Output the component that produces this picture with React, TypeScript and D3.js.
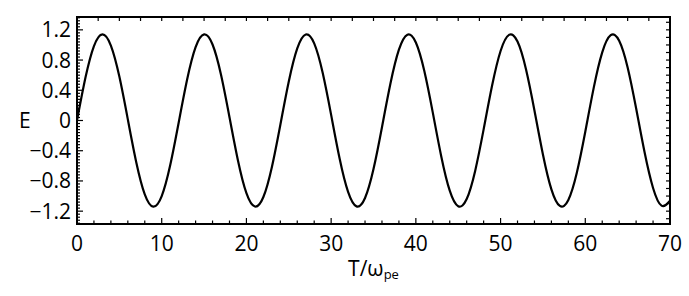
import React from 'react';
import * as d3 from 'd3';

const timeValues = d3.range(0, 71, 1);
const fieldValues = [
  0, 0.568, 0.985, 1.14, 0.992, 0.581, 0.015, -0.555, -0.977, -1.14,
  -1.0, -0.593, -0.03, 0.542, 0.97, 1.139, 1.006, 0.606, 0.044, -0.529,
  -0.962, -1.139, -1.013, -0.618, -0.059, 0.516, 0.954, 1.138, 1.02, 0.631,
  0.074, -0.503, -0.945, -1.137, -1.026, -0.643, -0.089, 0.489, 0.937, 1.136,
  1.033, 0.655, 0.104, -0.476, -0.929, -1.135, -1.039, -0.667, -0.118, 0.462,
  0.92, 1.133, 1.045, 0.679, 0.133, -0.449, -0.911, -1.131, -1.051, -0.691,
  -0.148, 0.435, 0.902, 1.129, 1.057, 0.703, 0.162, -0.421, -0.893, -1.127,
  -1.062,
];
const xTickLabels = [0, 10, 20, 30, 40, 50, 60, 70];
const yTickLabels = [1.2, 0.8, 0.4, 0, -0.4, -0.8, -1.2];

const width = 689;
const height = 296;
const margin = { left: 77, right: 19, top: 17, bottom: 72 };
const font = "'Open Sans', sans-serif";

const fmt = (v: number) => (v < 0 ? '\u2212' + String(-v) : String(v));

const App = () => {
  const x = d3.scaleLinear().domain([0, 70]).range([margin.left, width - margin.right]);
  const y = d3.scaleLinear().domain([-1.37, 1.37]).range([height - margin.bottom, margin.top]);

  const points = timeValues.map((t, i) => [t, fieldValues[i]] as [number, number]);
  const line = d3
    .line<[number, number]>()
    .x((d) => x(d[0]))
    .y((d) => y(d[1]))
    .curve(d3.curveNatural);

  const x0 = x.range()[0];
  const x1 = x.range()[1];
  const yTop = y.range()[1];
  const yBot = y.range()[0];

  const bottomMinor = d3.range(0, 70.01, 2);
  const topMinor = d3.range(0, 70.01, 2.5);
  const leftMinor = d3.range(-1.36, 1.37, 0.04);
  const rightMinor = d3.range(-1.3, 1.31, 0.1);
  const isMajor = (v: number, step: number) => Math.abs(v / step - Math.round(v / step)) < 1e-6;

  return (
    <svg width={width} height={height} style={{ position: 'absolute', left: 0, top: 0, background: '#fff' }}>
      <defs>
        <clipPath id="plot">
          <rect x={x0} y={yTop} width={x1 - x0} height={yBot - yTop} />
        </clipPath>
      </defs>

      {/* ticks, all pointing inward */}
      <g stroke="#000" strokeWidth={1.2}>
        {bottomMinor.map((v) => (
          <line key={'b' + v} x1={x(v)} x2={x(v)} y1={yBot} y2={yBot - (isMajor(v, 10) ? 6 : 3.5)} />
        ))}
        {topMinor.map((v) => (
          <line key={'t' + v} x1={x(v)} x2={x(v)} y1={yTop} y2={yTop + 4} />
        ))}
        {leftMinor.map((v) => (
          <line key={'l' + v} x1={x0} x2={x0 + (isMajor(v, 0.4) ? 6 : 3)} y1={y(v)} y2={y(v)} />
        ))}
        {rightMinor.map((v) => (
          <line key={'r' + v} x1={x1} x2={x1 - 4} y1={y(v)} y2={y(v)} />
        ))}
      </g>

      <path d={line(points) || ''} fill="none" stroke="#000" strokeWidth={2.2} clipPath="url(#plot)" />

      <rect x={x0} y={yTop} width={x1 - x0} height={yBot - yTop} fill="none" stroke="#000" strokeWidth={2} />

      <g fontFamily={font} fontSize={21} fill="#000">
        {xTickLabels.map((v) => (
          <text key={'xl' + v} x={x(v)} y={251} textAnchor="middle">
            {v}
          </text>
        ))}
        {yTickLabels.map((v) => (
          <text key={'yl' + v} x={x0 - 6} y={y(v)} dy="0.36em" textAnchor="end">
            {fmt(v)}
          </text>
        ))}
        <text x={19} y={y(0)} dy="0.36em">
          E
        </text>
        <text x={(x0 + x1) / 2} y={276} textAnchor="middle">
          T/ω
          <tspan fontSize={13} dy={3}>
            pe
          </tspan>
        </text>
      </g>
    </svg>
  );
};

export default App;
